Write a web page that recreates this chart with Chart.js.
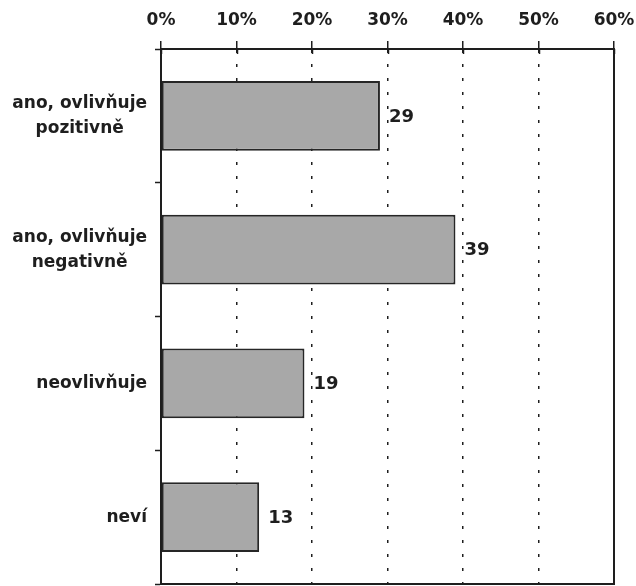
<!DOCTYPE html>
<html>
<head>
<meta charset="utf-8">
<script src="https://cdn.jsdelivr.net/npm/chart.js@4/dist/chart.umd.min.js"></script>
<style>
  html, body { margin: 0; padding: 0; background: #fff; }
  #wrap { width: 636px; height: 586px; }
</style>
</head>
<body>
<div id="wrap"><canvas id="c" width="636" height="586"></canvas></div>
<script>
// Answers (categories) and their shares in percent
const categories = [
  ["ano, ovlivňuje", "pozitivně"],
  ["ano, ovlivňuje", "negativně"],
  "neovlivňuje",
  "neví"
];
const shares = [29, 39, 19, 13];
const tickValues = [0, 10, 20, 30, 40, 50, 60];

const INK = '#1e1e1e';
const FONT = '"DejaVu Sans", Verdana, sans-serif';

// Value labels just right of each bar end
const valueLabels = {
  id: 'valueLabels',
  afterDatasetsDraw(chart) {
    const ctx = chart.ctx;
    const meta = chart.getDatasetMeta(0);
    ctx.save();
    ctx.fillStyle = INK;
    ctx.font = 'bold 18px ' + FONT;
    ctx.textAlign = 'left';
    ctx.textBaseline = 'middle';
    meta.data.forEach((bar, i) => {
      ctx.fillText(String(shares[i]), bar.x + 9, bar.y + 1);
    });
    ctx.restore();
  }
};

// Category names: each block right-aligned to the axis, its lines centred on each other
const categoryLabels = {
  id: 'categoryLabels',
  afterDraw(chart) {
    const y = chart.scales.y;
    const ctx = chart.ctx;
    const right = y.right - 14;
    const lineH = 25;
    ctx.save();
    ctx.fillStyle = INK;
    ctx.font = 'bold 17px ' + FONT;
    ctx.textAlign = 'center';
    ctx.textBaseline = 'middle';
    categories.forEach((label, i) => {
      const lines = Array.isArray(label) ? label : [label];
      const w = Math.max(...lines.map(l => ctx.measureText(l).width));
      const cx = right - w / 2;
      const cy = y.getPixelForValue(i);
      const y0 = cy - (lines.length - 1) * lineH / 2;
      lines.forEach((l, k) => ctx.fillText(l, cx, y0 + k * lineH));
    });
    ctx.restore();
  }
};

// Short tick stubs continuing just below the top axis line
const innerTicks = {
  id: 'innerTicks',
  afterDraw(chart) {
    const x = chart.scales.x;
    const ctx = chart.ctx;
    ctx.save();
    ctx.strokeStyle = INK;
    ctx.lineWidth = 1.5;
    tickValues.forEach(v => {
      const px = Math.round(x.getPixelForValue(v)) + 0.5;
      ctx.beginPath();
      ctx.moveTo(px, x.bottom);
      ctx.lineTo(px, x.bottom + 5);
      ctx.stroke();
    });
    ctx.restore();
  }
};

new Chart(document.getElementById('c'), {
  type: 'bar',
  data: {
    labels: categories,
    datasets: [{
      data: shares,
      backgroundColor: '#a8a8a8',
      borderColor: '#262626',
      borderWidth: 2,
      borderSkipped: false,
      categoryPercentage: 1,
      barPercentage: 0.52,
      yAxisID: 'y'
    }]
  },
  options: {
    indexAxis: 'y',
    responsive: false,
    animation: false,
    layout: { padding: { top: 0, right: 22, bottom: 2, left: 0 } },
    plugins: { legend: { display: false }, tooltip: { enabled: false } },
    scales: {
      x: {
        position: 'top',
        min: 0,
        max: 60,
        afterBuildTicks(scale) { scale.ticks = tickValues.map(v => ({ value: v })); },
        afterFit(scale) { scale.height = 49; scale.paddingRight = 0; scale.paddingLeft = 0; },
        ticks: {
          color: INK,
          font: { family: FONT, weight: 'bold', size: 17 },
          padding: 10,
          maxRotation: 0,
          callback: v => v + '%'
        },
        grid: {
          color: ctx => (ctx.tick && (ctx.tick.value === 0 || ctx.tick.value === 60)) ? 'rgba(0,0,0,0)' : INK,
          lineWidth: 1.5,
          drawTicks: true,
          tickLength: 8,
          tickColor: INK,
          tickWidth: 1.5
        },
        border: { display: true, color: INK, width: 2, dash: [3, 11] }
      },
      xBottom: {
        type: 'linear',
        position: 'bottom',
        min: 0,
        max: 60,
        afterFit(scale) { scale.height = 0; scale.paddingRight = 0; scale.paddingLeft = 0; },
        ticks: { display: false },
        grid: { display: false },
        border: { display: true, color: INK, width: 2 }
      },
      y: {
        position: 'left',
        afterFit(scale) { scale.width = 161; scale.paddingTop = 0; scale.paddingBottom = 0; },
        ticks: { display: false },
        grid: {
          drawOnChartArea: false,
          drawTicks: true,
          tickLength: 6,
          tickColor: INK,
          tickWidth: 1.5,
          offset: true
        },
        border: { display: true, color: INK, width: 2 }
      },
      yRight: {
        type: 'category',
        position: 'right',
        labels: categories,
        afterFit(scale) { scale.width = 0; scale.paddingTop = 0; scale.paddingBottom = 0; },
        ticks: { display: false },
        grid: { display: false },
        border: { display: true, color: INK, width: 2 }
      }
    }
  },
  plugins: [valueLabels, categoryLabels, innerTicks]
});
</script>
</body>
</html>
